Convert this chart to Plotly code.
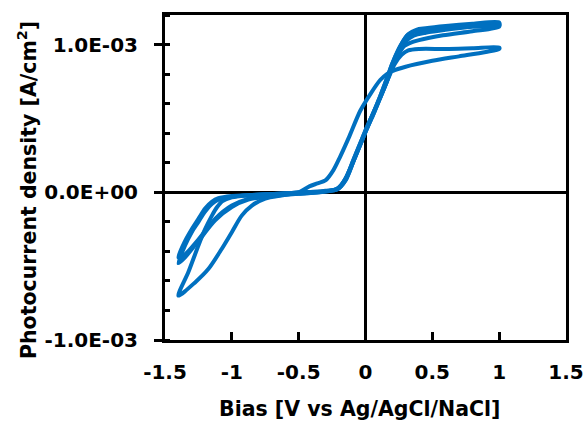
import plotly.graph_objects as go

# Cycle A (lower plateau); Bias [V], current density in units of 1e-3 A/cm2
cycA_x = [-1.40, -1.325, -1.25, -1.20, -1.15, -1.11, -1.07, -1.00, -0.90, -0.75, -0.60, -0.50, -0.42, -0.36, -0.30, -0.24, -0.19,
          -0.12, -0.04, 0.04, 0.11, 0.16, 0.20, 0.30, 0.50, 0.70, 0.90, 1.00,
          1.00, 0.80, 0.60, 0.40, 0.32, 0.27, 0.22, 0.17, 0.11, 0.05, 0.01, -0.04, -0.09, -0.14, -0.18, -0.22,
          -0.30, -0.50, -0.63, -0.75, -0.85, -0.926, -1.00, -1.076, -1.176, -1.275, -1.40]
cycA_y = [-0.70, -0.54, -0.36, -0.25, -0.16, -0.10, -0.06, -0.035, -0.022, -0.014, -0.008, 0.0, 0.04, 0.06, 0.08, 0.15, 0.24,
          0.38, 0.55, 0.67, 0.76, 0.80, 0.82, 0.85, 0.89, 0.92, 0.95, 0.97,
          0.98, 0.975, 0.97, 0.97, 0.96, 0.93, 0.87, 0.77, 0.64, 0.52, 0.43, 0.32, 0.21, 0.11, 0.05, 0.02,
          0.01, -0.005, -0.022, -0.043, -0.09, -0.158, -0.27, -0.384, -0.52, -0.61, -0.70]

# Cycle B (upper plateau)
cycB_x = [-1.40, -1.35, -1.30, -1.25, -1.20, -1.15, -1.10, -1.00, -0.85, -0.65, -0.45, -0.30, -0.21, -0.15, -0.09, -0.04,
          0.01, 0.06, 0.11, 0.16, 0.20, 0.25, 0.29, 0.33, 0.40, 0.58, 0.80, 1.00,
          1.00, 0.80, 0.60, 0.45, 0.36, 0.31, 0.25, 0.20, 0.16, 0.11, 0.06, 0.01, -0.04, -0.09, -0.15, -0.21,
          -0.30, -0.50, -0.70, -0.877, -1.00, -1.125, -1.25, -1.35, -1.40]
cycB_y = [-0.44, -0.33, -0.25, -0.18, -0.11, -0.065, -0.04, -0.025, -0.018, -0.01, 0.0, 0.005, 0.02, 0.08, 0.21, 0.32,
          0.43, 0.53, 0.64, 0.75, 0.85, 0.94, 0.99, 1.01, 1.03, 1.063, 1.09, 1.12,
          1.14, 1.125, 1.11, 1.095, 1.085, 1.06, 0.97, 0.87, 0.77, 0.65, 0.54, 0.44, 0.33, 0.22, 0.09, 0.025,
          0.005, -0.01, -0.02, -0.045, -0.09, -0.18, -0.32, -0.42, -0.44]

# Cycle C (upper plateau)
cycC_x = [-1.40, -1.35, -1.30, -1.25, -1.20, -1.15, -1.10, -1.00, -0.85, -0.65, -0.45, -0.30, -0.21, -0.15, -0.09, -0.04,
          0.01, 0.06, 0.11, 0.16, 0.20, 0.25, 0.30, 0.36, 0.45, 0.60, 0.80, 1.00,
          1.00, 0.80, 0.60, 0.45, 0.38, 0.32, 0.26, 0.20, 0.16, 0.11, 0.06, 0.01, -0.04, -0.09, -0.15, -0.21,
          -0.30, -0.50, -0.70, -0.877, -1.00, -1.125, -1.25, -1.35, -1.40]
cycC_y = [-0.48, -0.36, -0.27, -0.20, -0.13, -0.08, -0.05, -0.03, -0.02, -0.01, 0.0, 0.005, 0.02, 0.08, 0.21, 0.32,
          0.43, 0.53, 0.64, 0.75, 0.85, 0.94, 1.02, 1.06, 1.08, 1.10, 1.12, 1.13,
          1.15, 1.14, 1.125, 1.11, 1.10, 1.07, 0.99, 0.87, 0.77, 0.65, 0.54, 0.44, 0.33, 0.22, 0.09, 0.025,
          0.005, -0.01, -0.025, -0.05, -0.10, -0.19, -0.33, -0.44, -0.48]

x_ticks = [-1.5, -1, -0.5, 0, 0.5, 1, 1.5]
x_ticktext = ["-1.5", "-1", "-0.5", "0", "0.5", "1", "1.5"]
y_ticks = [-1e-3, 0, 1e-3]
y_ticktext = ["-1.0E-03", "0.0E+00", "1.0E-03"]
x_title = "Bias [V vs Ag/AgCl/NaCl]"
y_title = "Photocurrent density [A/cm<sup>2</sup>]"

FONT = "DejaVu Sans"
COLOR = "#0070C0"

fig = go.Figure()
for xs, ys in [(cycA_x, cycA_y), (cycB_x, cycB_y), (cycC_x, cycC_y)]:
    fig.add_trace(go.Scatter(x=xs, y=[v * 1e-3 for v in ys], mode="lines",
                             line=dict(color=COLOR, width=4, shape="spline", smoothing=0.8),
                             showlegend=False, hoverinfo="skip"))

fig.update_layout(
    width=583, height=423,
    margin=dict(l=165, r=17, t=15, b=83, autoexpand=False),
    plot_bgcolor="white", paper_bgcolor="white",
    font=dict(family=FONT, size=20, color="black"),
    xaxis=dict(range=[-1.5, 1.5], tickvals=x_ticks, ticktext=x_ticktext, automargin=False,
               ticks="inside", ticklen=8, tickwidth=3, tickcolor="black",
               showline=True, linewidth=3, linecolor="black", mirror=True,
               showgrid=False, zeroline=True, zerolinecolor="black", zerolinewidth=3,
               tickfont=dict(family=FONT, size=20, weight="bold"),
               ticklabelstandoff=12, ticklabeloverflow="allow"),
    yaxis=dict(range=[-1e-3, 1.2e-3], tickvals=y_ticks, ticktext=y_ticktext, automargin=False,
               ticks="outside", ticklen=8, tickwidth=3, tickcolor="black",
               minor=dict(dtick=2e-4, tick0=0, ticks="inside", ticklen=5, tickwidth=3, tickcolor="black"),
               showline=True, linewidth=3, linecolor="black", mirror=True,
               showgrid=False, zeroline=True, zerolinecolor="black", zerolinewidth=3,
               tickfont=dict(family=FONT, size=20, weight="bold"),
               ticklabelstandoff=12, ticklabeloverflow="allow"),
    annotations=[
        dict(text=x_title, xref="paper", yref="paper", x=0.484, y=-0.212,
             xanchor="center", yanchor="middle", showarrow=False,
             font=dict(family=FONT, size=20.5, weight="bold", color="black")),
        dict(text=y_title, xref="paper", yref="paper", x=-0.344, y=0.4615,
             xanchor="center", yanchor="middle", showarrow=False, textangle=-90,
             font=dict(family=FONT, size=20.5, weight="bold", color="black")),
    ],
)

fig.write_html("out.html")
